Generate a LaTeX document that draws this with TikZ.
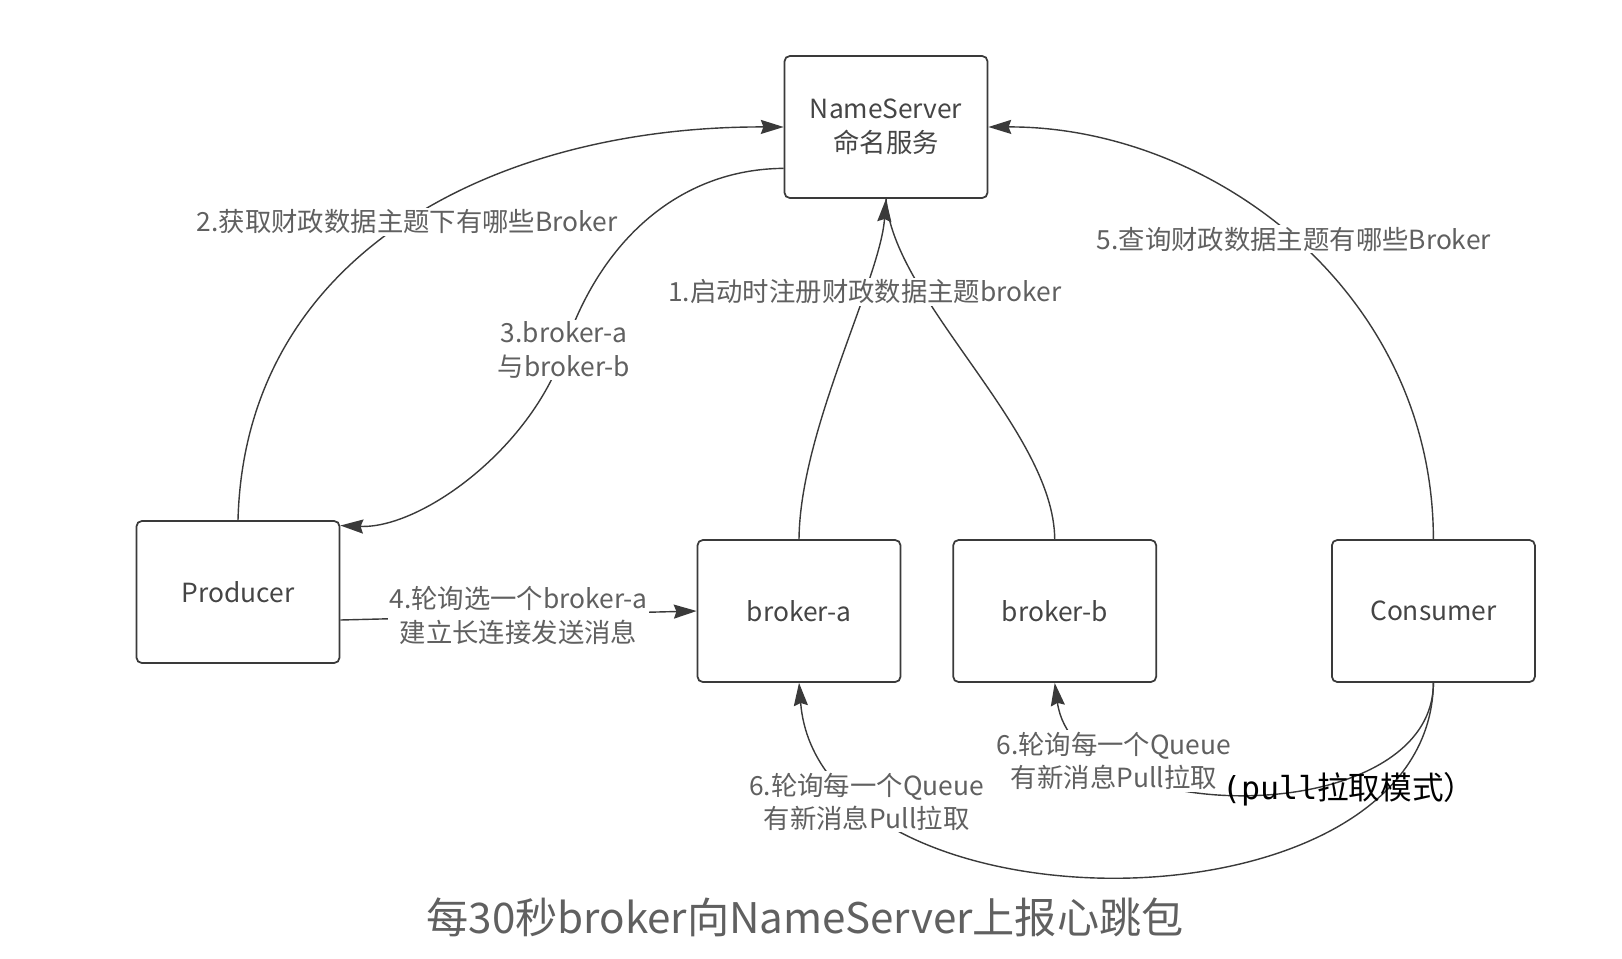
\documentclass[tikz,border=0pt]{standalone}
\usepackage{fontspec}
\usetikzlibrary{arrows.meta,positioning}
\newfontfamily\cjk{Noto Sans CJK SC}
\newfontfamily\pullmono{DejaVu Sans Mono}
\definecolor{mqLine}{HTML}{3A3A3A}
\definecolor{mqText}{HTML}{454545}
\definecolor{mqLabel}{HTML}{606060}

\begin{document}
\begin{tikzpicture}[x=0.02cm,y=-0.02cm,font=\cjk\fontsize{15}{19}\selectfont,
   box/.style={draw=mqLine,rounded corners=3pt,line width=1pt,minimum width=4.06cm,
               minimum height=2.84cm,align=center,text=mqText,
               font=\cjk\fontsize{15}{19.5}\selectfont},
   lbl/.style={fill=white,text=mqLabel,align=center,inner sep=1pt},
   conn/.style={draw=mqLine,line width=0.8pt},
   tip/.style={conn,-{Stealth[length=13pt,width=8pt,inset=1.5pt]}}]
  \useasboundingbox (0,0) rectangle (1622,958);
  \node[box] (ns) at (886,127) {NameServer\\命名服务};
  \node[box] (prod) at (238,592) {Producer};
  \node[box] (ba) at (799,611) {broker-a};
  \node[box,right=1.02cm of ba] (bb) {broker-b};
  \node[box,right=3.48cm of bb] (cons) {Consumer};

  \draw[tip] (prod.north) .. controls (245,250) and (500,126) ..
    node[lbl]{2.获取财政数据主题下有哪些Broker} (ns.west);
  \coordinate (c3) at (564,350);
  \draw[tip] (ns.202) .. controls (680,169) and (600,240) .. (c3)
    node[lbl]{3.broker-a\\与broker-b} .. controls (530,450) and (420,529) .. (prod.33);
  \draw[conn] (bb.north) .. controls (1054,430) and (893,300) .. (ns.south);
  \draw[tip] (ba.north) .. controls (800,430) and (880,280) ..
    node[lbl,pos=0.7,yshift=-0.08cm]{1.启动时注册财政数据主题broker} (ns.south);
  \draw[tip] ([yshift=-0.56cm]prod.east) --
    node[lbl]{4.轮询选一个broker-a\\建立长连接发送消息} (ba.west);
  \draw[tip] (cons.north) .. controls (1433,290) and (1210,126) ..
    node[lbl]{5.查询财政数据主题有哪些Broker} (ns.east);
  \draw[tip] (cons.south) .. controls (1430,940) and (820,940) ..
    node[lbl,pos=0.81]{6.轮询每一个Queue\\有新消息Pull拉取} (ba.south);
  \draw[tip] (cons.south) .. controls (1433,830) and (1075,830) ..
    node[lbl,pos=0.77]{6.轮询每一个Queue\\有新消息Pull拉取} (bb.south);

  \node[text=black,inner sep=1pt,anchor=west,font=\cjk\fontsize{18}{21}\selectfont] (pull)
    at (1220,789) {{\pullmono (pull}拉取模式）};
  \node[text=mqLabel,font=\cjk\fontsize{24}{28}\selectfont] (title) at (805,917)
    {每30秒broker向NameServer上报心跳包};
\end{tikzpicture}
\end{document}
